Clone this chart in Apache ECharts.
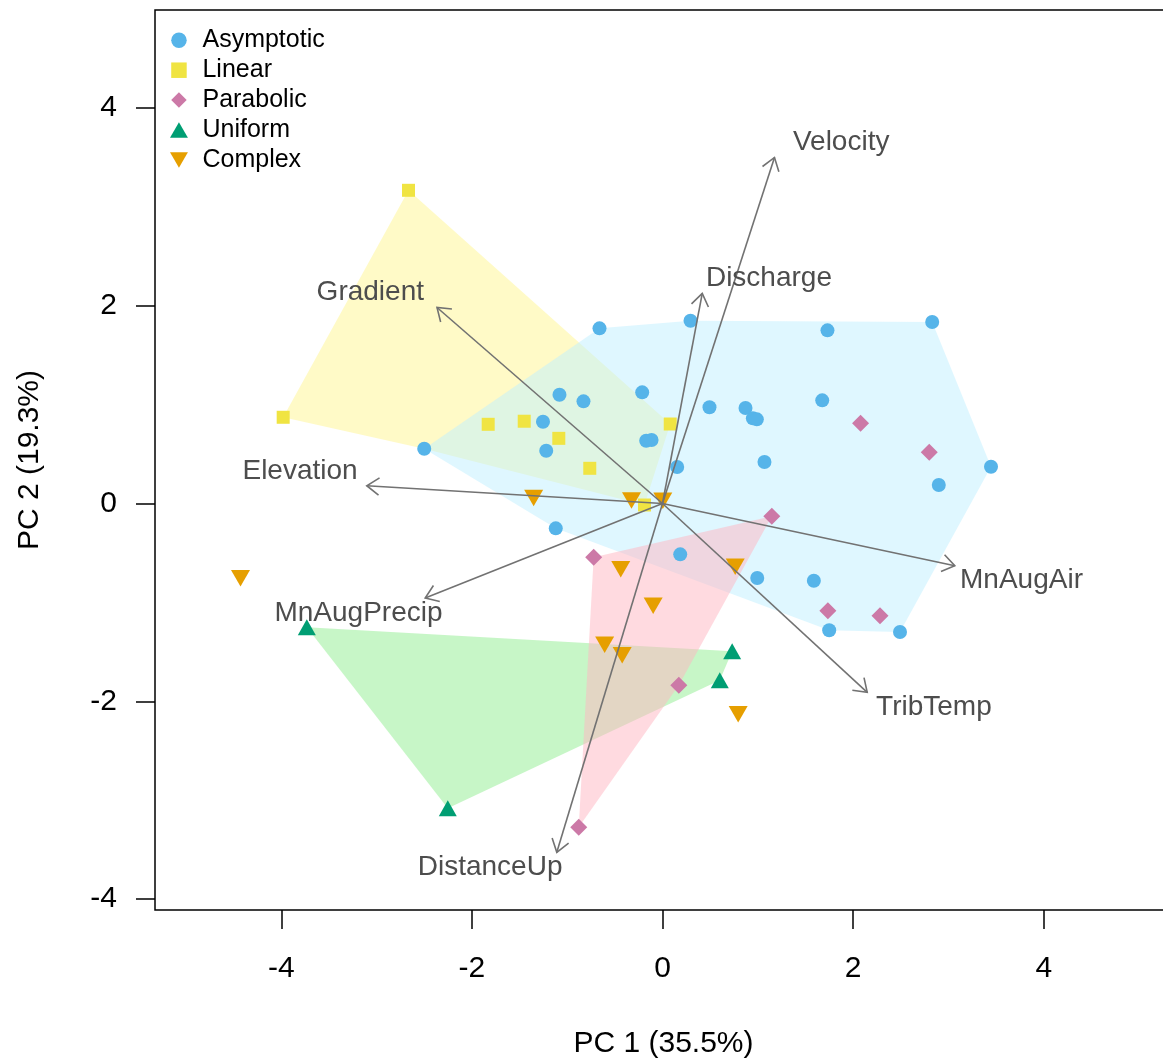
<!DOCTYPE html>
<html>
<head>
<meta charset="utf-8">
<title>PCA biplot</title>
<script src="https://cdn.jsdelivr.net/npm/echarts@6/dist/echarts.min.js"></script>
<style>
  html, body { margin: 0; padding: 0; background: #fff; }
  #chart { width: 1163px; height: 1059px; }
</style>
</head>
<body>
<div id="chart"></div>
<script>
// Site scores on the first two principal components, by response type
const asymptotic = [
  [-2.500, 0.554], [-0.661, 1.771], [0.294, 1.848], [1.731, 1.751], [2.830, 1.835],
  [-1.081, 1.100], [-0.829, 1.033], [-0.213, 1.124], [-1.254, 0.827], [-1.220, 0.534],
  [-0.171, 0.635], [-0.115, 0.642], [0.154, 0.369], [0.493, 0.973], [0.871, 0.966],
  [0.948, 0.861], [0.990, 0.851], [1.676, 1.043], [1.070, 0.420], [3.447, 0.372],
  [2.899, 0.187], [-1.120, -0.251], [0.186, -0.514], [0.994, -0.753], [1.588, -0.781],
  [1.749, -1.282], [2.492, -1.299]
];
const linear = [
  [-2.665, 3.167], [-3.980, 0.872], [-1.829, 0.801], [-1.451, 0.832],
  [-1.088, 0.659], [-0.763, 0.356], [0.081, 0.804], [-0.189, -0.015]
];
const parabolic = [
  [2.078, 0.811], [2.799, 0.518], [1.147, -0.128], [-0.722, -0.543],
  [1.735, -1.084], [2.282, -1.135], [0.171, -1.838], [-0.879, -3.274]
];
const uniform = [
  [-3.732, -1.251], [-2.253, -3.082], [0.731, -1.494], [0.601, -1.788]
];
const complex = [
  [-4.428, -0.756], [-1.352, 0.056], [-0.325, 0.030], [0.003, 0.028], [-0.438, -0.664],
  [0.763, -0.639], [-0.098, -1.033], [-0.607, -1.429], [-0.423, -1.535], [0.794, -2.131]
];

// Outlines of the shaded group envelopes (vertices in score space)
const hullLinear = [[-2.665, 3.167], [-3.980, 0.872], [-2.500, 0.554], [-0.189, -0.015], [0.081, 0.804]];
const hullAsymptotic = [[-2.500, 0.554], [-0.661, 1.771], [0.294, 1.848], [2.830, 1.835],
  [3.447, 0.372], [2.492, -1.299], [1.749, -1.282], [-1.120, -0.251]];
const hullUniform = [[-3.732, -1.251], [-2.253, -3.082], [0.601, -1.788], [0.731, -1.494]];
const hullParabolic = [[-0.722, -0.543], [1.147, -0.128], [0.171, -1.838], [-0.879, -3.274]];

// Variable loadings (arrow tips)
const loadingNames = ['Velocity', 'Discharge', 'Gradient', 'Elevation',
  'MnAugAir', 'TribTemp', 'DistanceUp', 'MnAugPrecip'];
const loadingX = [1.175, 0.417, -2.366, -3.103, 3.067, 2.148, -1.109, -2.490];
const loadingY = [3.499, 2.125, 1.982, 0.180, -0.629, -1.909, -3.527, -0.956];

// Axis ticks
const xTicks = [-4, -2, 0, 2, 4];
const yTicks = [-4, -2, 0, 2, 4];

const FONT = '"Liberation Sans", Arial, Helvetica, sans-serif';
const chart = echarts.init(document.getElementById('chart'), null, { renderer: 'canvas' });

function hullSeries(name, verts, fill) {
  return {
    type: 'custom', name: name, silent: true, z: 1,
    data: [[verts[0][0], verts[0][1]]],
    renderItem: function (params, api) {
      const pts = verts.map(function (v) { return api.coord(v); });
      return { type: 'polygon', shape: { points: pts }, style: { fill: fill, stroke: null } };
    }
  };
}

// Marker outlines (paths keep their proportions in the legend)
const squareSym = 'path://M0,0L10,0L10,10L0,10Z';
const diamondSym = 'path://M5,0L10,5L5,10L0,5Z';
const downTri = 'path://M0,0L20,0L10,17.3Z';
const upTri = 'path://M10,0L20,17.3L0,17.3Z';

function scatter(name, data, symbol, size, color) {
  return {
    type: 'scatter', name: name, data: data, symbol: symbol, symbolSize: size, z: 2,
    itemStyle: { color: color, opacity: 1 },
    emphasis: { disabled: true }
  };
}

const arrowColor = '#727272';
const arrowSeries = {
  type: 'custom', name: 'loadings', silent: true, z: 3,
  data: loadingX.map(function (x, i) { return [x, loadingY[i]]; }),
  renderItem: function (params, api) {
    const x = api.value(0), y = api.value(1);
    const o = api.coord([0, 0]);
    const t = api.coord([x, y]);
    const dx = t[0] - o[0], dy = t[1] - o[1];
    const len = Math.sqrt(dx * dx + dy * dy);
    const ux = -dx / len, uy = -dy / len;
    const head = 15, ang = 35 * Math.PI / 180;
    const c = Math.cos(ang), s = Math.sin(ang);
    const l1 = [t[0] + head * (ux * c - uy * s), t[1] + head * (ux * s + uy * c)];
    const l2 = [t[0] + head * (ux * c + uy * s), t[1] + head * (-ux * s + uy * c)];
    const lp = api.coord([x + 0.7 * Math.sign(x), y + 0.15 * Math.sign(y)]);
    return {
      type: 'group',
      children: [
        { type: 'line', shape: { x1: o[0], y1: o[1], x2: t[0], y2: t[1] },
          style: { stroke: arrowColor, lineWidth: 1.6 } },
        { type: 'polyline', shape: { points: [l1, t, l2] },
          style: { stroke: arrowColor, lineWidth: 1.6, fill: null } },
        { type: 'text', x: lp[0], y: lp[1],
          style: { text: loadingNames[params.dataIndex], fill: '#4d4d4d',
            fontSize: 28, fontFamily: FONT, align: 'center', verticalAlign: 'middle' } }
      ]
    };
  }
};

chart.setOption({
  animation: false,
  backgroundColor: '#ffffff',
  grid: {
    left: 155, top: 10, right: -9, bottom: 149, outerBoundsMode: 'none',
    show: true, borderColor: '#000', borderWidth: 1.5, backgroundColor: 'transparent'
  },
  legend: {
    data: ['Asymptotic', 'Linear', 'Parabolic', 'Uniform', 'Complex'],
    orient: 'vertical', left: 170, top: 27.8, padding: 0,
    itemWidth: 37, itemHeight: 15.5, itemGap: 4.9, symbolKeepAspect: true,
    textStyle: { fontSize: 25, fontFamily: FONT, color: '#000', lineHeight: 25 }
  },
  xAxis: {
    type: 'value', min: -5.325, max: 5.346,
    axisLine: { show: false, onZero: false }, splitLine: { show: false },
    axisTick: { show: true, length: 19, customValues: xTicks, lineStyle: { color: '#000', width: 1.5 } },
    axisLabel: { customValues: xTicks, fontSize: 30, fontFamily: FONT, color: '#000', margin: 44 },
    name: 'PC 1 (35.5%)', nameLocation: 'middle', nameGap: 119,
    nameTextStyle: { fontSize: 30, fontFamily: FONT, color: '#000' }
  },
  yAxis: {
    type: 'value', min: -4.11, max: 4.99,
    axisLine: { show: false, onZero: false }, splitLine: { show: false },
    axisTick: { show: true, length: 19, customValues: yTicks, lineStyle: { color: '#000', width: 1.5 } },
    axisLabel: { customValues: yTicks, fontSize: 30, fontFamily: FONT, color: '#000', margin: 38,
      padding: [6, 0, 0, 0] },
    name: 'PC 2 (19.3%)', nameLocation: 'middle', nameGap: 110,
    nameTextStyle: { fontSize: 30, fontFamily: FONT, color: '#000' }
  },
  series: [
    hullSeries('hullLinear', hullLinear, 'rgba(255,246,143,0.5)'),
    hullSeries('hullAsymptotic', hullAsymptotic, 'rgba(191,239,255,0.5)'),
    hullSeries('hullUniform', hullUniform, 'rgba(144,238,144,0.5)'),
    hullSeries('hullParabolic', hullParabolic, 'rgba(255,182,193,0.5)'),
    scatter('Asymptotic', asymptotic, 'circle', 14, '#56B4E9'),
    scatter('Linear', linear, squareSym, 13, '#F0E442'),
    scatter('Parabolic', parabolic, diamondSym, 17, '#CC79A7'),
    scatter('Uniform', uniform, upTri, [18, 16], '#009E73'),
    scatter('Complex', complex, downTri, [19, 16.5], '#E69F00'),
    arrowSeries
  ]
});
</script>
</body>
</html>
